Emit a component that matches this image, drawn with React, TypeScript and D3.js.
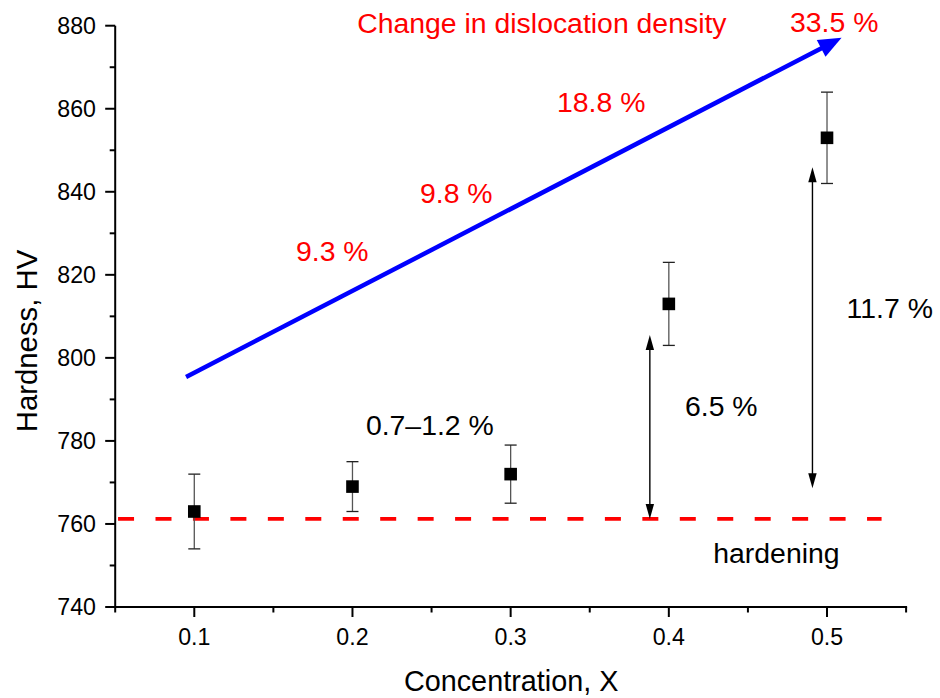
import React from "react";
import * as d3 from "d3";

// ---- data ----
const concentrations = [0.1, 0.2, 0.3, 0.4, 0.5];
const hardness = [763, 769, 772, 813, 853];
const hardnessErr = [9, 6, 7, 10, 11];
const xTicks = [0.1, 0.2, 0.3, 0.4, 0.5];
const xMinorTicks = [0.05, 0.15, 0.25, 0.35, 0.45, 0.55];
const yTicks = [740, 760, 780, 800, 820, 840, 860, 880];
const yMinorTicks = [750, 770, 790, 810, 830, 850, 870];
const baseHardness = 761.2;
const baseLineX = [0.0518, 0.5345];
// dislocation-density trend arrow [x, y] start/end
const trendArrow = [[0.0948, 795.4], [0.5092, 877.1]];
// hardening double arrows: x, from, to
const hardeningArrows = [
  { x: 0.388, y0: 761.2, y1: 805.5 },
  { x: 0.4908, y0: 768.6, y1: 845.9 },
];
const redLabels = [
  { text: "Change in dislocation density", x: 0.203, y: 878.2 },
  { text: "33.5 %", x: 0.4766, y: 878.4 },
  { text: "18.8 %", x: 0.3293, y: 859.2 },
  { text: "9.8 %", x: 0.2427, y: 837.2 },
  { text: "9.3 %", x: 0.1643, y: 823.3 },
];
const blackLabels = [
  { text: "0.7\u20131.2 %", x: 0.2085, y: 781.4 },
  { text: "6.5 %", x: 0.4102, y: 786.0 },
  { text: "11.7 %", x: 0.5124, y: 809.5 },
  { text: "hardening", x: 0.4281, y: 750.5 },
];

const FONT = "'Liberation Sans', Arial, Helvetica, sans-serif";

export default function App() {
  const W = 940, H = 698;
  const x = d3.scaleLinear().domain([0.05, 0.55]).range([115.2, 906.1]);
  const y = d3.scaleLinear().domain([740, 880]).range([607, 25.7]);
  const x0 = x(0.05), x1 = x(0.55), yb = y(740), yt = y(880);

  // trend arrow geometry
  const [sx, sy] = [x(trendArrow[0][0]), y(trendArrow[0][1])];
  const [ex, ey] = [x(trendArrow[1][0]), y(trendArrow[1][1])];
  const ang = Math.atan2(ey - sy, ex - sx);
  const headL = 23, headW = 9.5;
  const bx = ex - headL * Math.cos(ang), by = ey - headL * Math.sin(ang);
  const px = -Math.sin(ang), py = Math.cos(ang);
  const head = `M${ex},${ey}L${bx + px * headW},${by + py * headW}L${bx - px * headW},${by - py * headW}Z`;

  const dblArrow = (a: { x: number; y0: number; y1: number }, i: number) => {
    const ax = x(a.x), ya = y(a.y0), yz = y(a.y1);
    const hl = 15, hw = 4.2;
    return (
      <g key={i}>
        <line x1={ax} x2={ax} y1={ya - hl + 2} y2={yz + hl - 2} stroke="#000" strokeWidth={1.4} />
        <path d={`M${ax},${yz}L${ax - hw},${yz + hl}L${ax + hw},${yz + hl}Z`} fill="#000" />
        <path d={`M${ax},${ya}L${ax - hw},${ya - hl}L${ax + hw},${ya - hl}Z`} fill="#000" />
      </g>
    );
  };

  return (
    <svg width={W} height={H} style={{ position: "absolute", left: 0, top: 0, background: "#fff" }} fontFamily={FONT}>
      <rect x={0} y={0} width={W} height={H} fill="#fff" />
      {/* baseline dashed */}
      <line x1={x(baseLineX[0])} x2={x(baseLineX[1])} y1={y(baseHardness)} y2={y(baseHardness)}
        stroke="#ff0000" strokeWidth={3.8} strokeDasharray="16 21.45" />

      {/* trend arrow */}
      <line x1={sx} y1={sy} x2={bx + 2 * Math.cos(ang)} y2={by + 2 * Math.sin(ang)} stroke="#0000ff" strokeWidth={4.5} />
      <path d={head} fill="#0000ff" />

      {/* double arrows */}
      {hardeningArrows.map(dblArrow)}

      {/* error bars + points */}
      {concentrations.map((c, i) => {
        const cx = x(c);
        const top = y(hardness[i] + hardnessErr[i]);
        const bot = y(hardness[i] - hardnessErr[i]);
        return (
          <g key={i}>
            <line x1={cx} x2={cx} y1={top} y2={bot} stroke="#555" strokeWidth={1.3} />
            <line x1={cx - 6} x2={cx + 6} y1={top} y2={top} stroke="#222" strokeWidth={1.3} />
            <line x1={cx - 6} x2={cx + 6} y1={bot} y2={bot} stroke="#222" strokeWidth={1.3} />
            <rect x={cx - 6.3} y={y(hardness[i]) - 6.3} width={12.6} height={12.6} fill="#000" />
          </g>
        );
      })}

      {/* axes */}
      <g stroke="#000" strokeWidth={2}>
        <line x1={x0} x2={x0} y1={yt} y2={yb + 1} />
        <line x1={x0 - 1} x2={x1 + 1} y1={yb} y2={yb} />
        {xTicks.map((t) => <line key={"xt" + t} x1={x(t)} x2={x(t)} y1={yb} y2={yb + 10} />)}
        {xMinorTicks.map((t) => <line key={"xm" + t} x1={x(t)} x2={x(t)} y1={yb} y2={yb + 5.5} />)}
        {yTicks.map((t) => <line key={"yt" + t} x1={x0 - 10} x2={x0} y1={y(t)} y2={y(t)} />)}
        {yMinorTicks.map((t) => <line key={"ym" + t} x1={x0 - 5.5} x2={x0} y1={y(t)} y2={y(t)} />)}
      </g>
      <g fontSize={23.2} fill="#000">
        {xTicks.map((t) => (
          <text key={"xl" + t} x={x(t)} y={645} textAnchor="middle">{d3.format(".1f")(t)}</text>
        ))}
        {yTicks.map((t) => (
          <text key={"yl" + t} x={96} y={y(t) + 8.2} textAnchor="end">{t}</text>
        ))}
      </g>
      <text x={(x0 + x1) / 2 + 0.5} y={691} textAnchor="middle" fontSize={28.8}>Concentration, X</text>
      <text transform={`translate(37,341) rotate(-90)`} textAnchor="middle" fontSize={29.3}>Hardness, HV</text>

      {/* annotations */}
      <g fontSize={28.4} fill="#ff0000">
        {redLabels.map((l, i) => <text key={i} x={x(l.x)} y={y(l.y)}>{l.text}</text>)}
      </g>
      <g fontSize={28.4} fill="#000">
        {blackLabels.map((l, i) => <text key={i} x={x(l.x)} y={y(l.y)}>{l.text}</text>)}
      </g>
    </svg>
  );
}
